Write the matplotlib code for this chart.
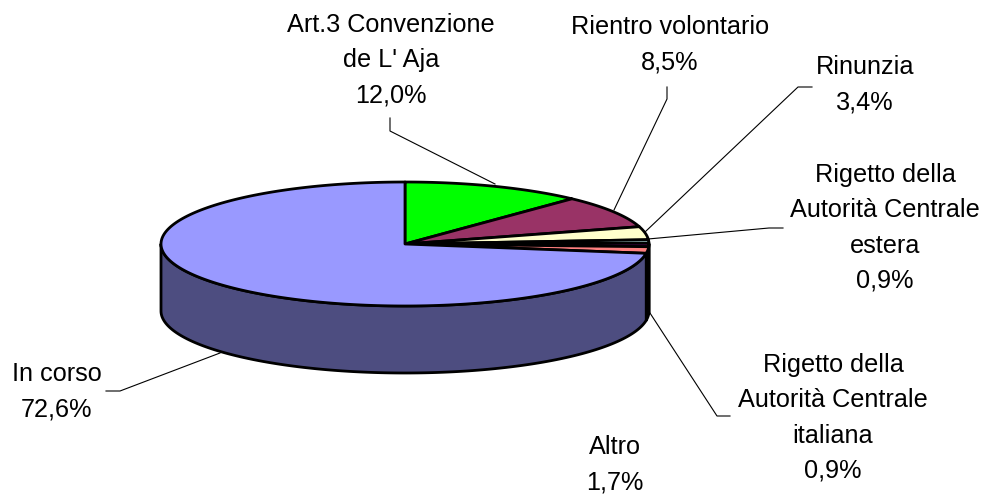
import matplotlib.pyplot as plt
import numpy as np
from matplotlib.patches import Polygon

plt.rcParams['font.family'] = ['Liberation Sans', 'DejaVu Sans']

# slices, clockwise from 12 o'clock
labels = ['Art.3 Convenzione\nde L\' Aja', 'Rientro volontario', 'Rinunzia',
          'Rigetto della\nAutorità Centrale\nestera',
          'Rigetto della\nAutorità Centrale\nitaliana',
          'Altro', 'In corso']
values = [12.0, 8.5, 3.4, 0.9, 0.9, 1.7, 72.6]
pct_text = ['12,0%', '8,5%', '3,4%', '0,9%', '0,9%', '1,7%', '72,6%']
colors = ['#00FF00', '#993366', '#FFFFCC', '#CCFFFF', '#660066', '#FF8080', '#9999FF']
side_colors = ['#008000', '#4D1A33', '#808066', '#668080', '#330033', '#804040', '#4D4D80']

# label placement (pixel coords of figure) and leader lines
label_pos = [(391, 60), (670, 45), (865, 85), (885, 228), (833, 418), (615, 465), (57, 392)]
leaders = [
    [(390, 118), (390, 131), (495, 184)],
    [(667, 87), (667, 99), (614, 210)],
    [(812, 87), (798, 87), (645, 232)],
    [(783, 228), (769, 228), (648, 239)],
    [(730, 416), (717, 416), (648, 310)],
    None,
    [(106, 391), (120, 391), (220, 353)],
]

cx, cy = 405, 244
rx, ry = 244, 62
depth = 67

fig = plt.figure(figsize=(9.87, 4.96), dpi=100)
ax = fig.add_axes([0, 0, 1, 1])
ax.set_xlim(0, 987)
ax.set_ylim(496, 0)
ax.axis('off')


def arc(a, b, dy=0, n=200):
    t = np.radians(np.linspace(a, b, n))
    return np.column_stack([cx + rx * np.sin(t), cy - ry * np.cos(t) + dy])


bounds = np.concatenate([[0], np.cumsum(values)]) / sum(values) * 360

# side faces (front half only)
for i in range(len(values)):
    a, b = max(bounds[i], 90), min(bounds[i + 1], 270)
    if b <= a:
        continue
    top = arc(a, b)
    bot = arc(b, a, depth)
    ax.add_patch(Polygon(np.vstack([top, bot]), closed=True, facecolor=side_colors[i],
                         edgecolor='black', lw=2, joinstyle='round', zorder=1))

# top faces
for i in range(len(values)):
    pts = np.vstack([[[cx, cy]], arc(bounds[i], bounds[i + 1]), [[cx, cy]]])
    ax.add_patch(Polygon(pts, closed=True, facecolor=colors[i],
                         edgecolor='black', lw=2, joinstyle='round', zorder=2))

for i in range(len(values)):
    ax.text(label_pos[i][0], label_pos[i][1], labels[i] + '\n' + pct_text[i],
            ha='center', va='center', fontsize=18.2, linespacing=1.58, zorder=3)
    if leaders[i] is not None:
        xs, ys = zip(*leaders[i])
        ax.plot(xs, ys, color='black', lw=0.8, zorder=3)

fig.savefig('out.png', dpi=100)
